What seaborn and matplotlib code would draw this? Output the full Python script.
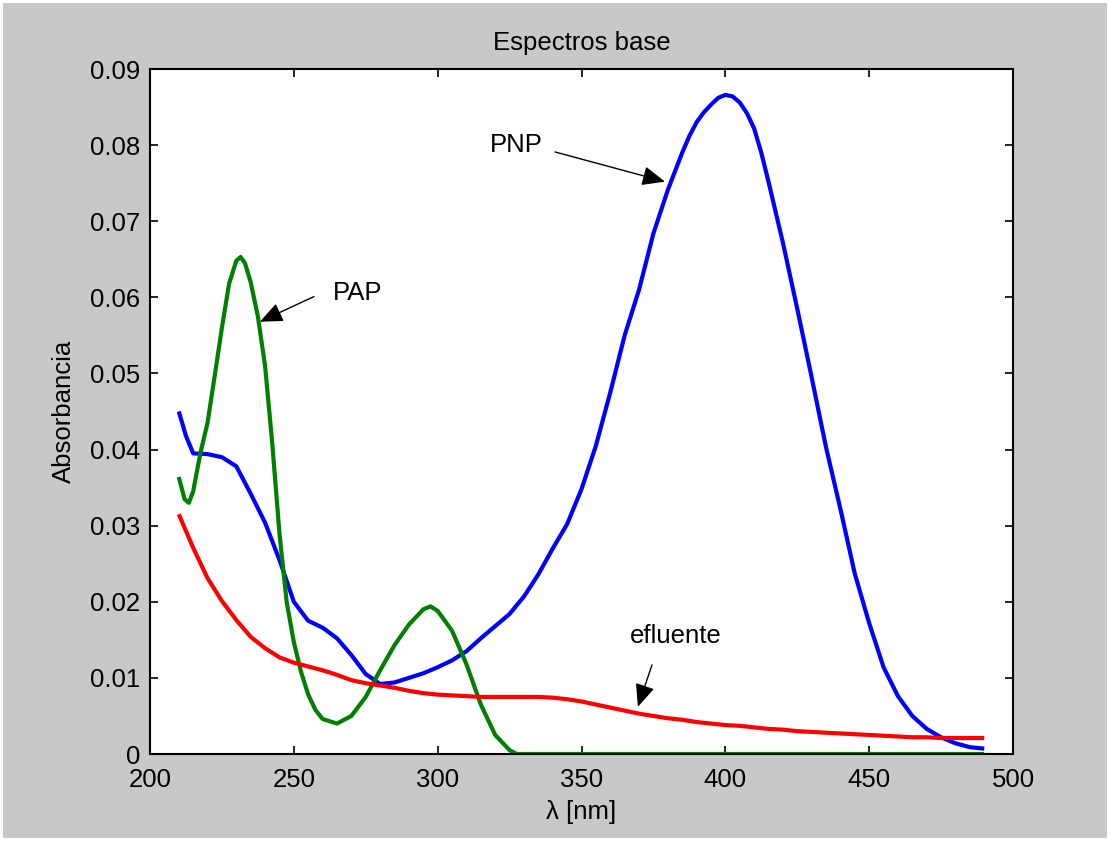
import numpy as np
import pandas as pd
import matplotlib
matplotlib.use("Agg")
import matplotlib.pyplot as plt
from matplotlib.patches import Rectangle
from matplotlib.ticker import FixedLocator, FuncFormatter
import seaborn as sns

# ---------------- data ----------------
wl = list(range(210, 495, 5))  # wavelength grid, nm (efluente)

pnp_wl = [210, 212.5, 215, 220, 225, 230, 235, 240, 245, 250, 255,
          260, 265, 270, 275, 280, 285, 290, 295, 300, 305,
          310, 315, 320, 325, 330, 335, 340, 345, 350, 355,
          360, 365, 370, 375, 380, 385, 387.5, 390, 392.5, 395, 397.5, 400, 402.5, 405, 407.5,
          410, 412.5, 415, 420, 425, 430, 435, 440, 445, 450, 455,
          460, 465, 470, 475, 480, 485, 490]
pnp = [0.0450, 0.0418, 0.0395, 0.0394, 0.0390, 0.0378, 0.0342, 0.0304, 0.0255, 0.0200, 0.0175,
       0.0166, 0.0152, 0.0130, 0.0105, 0.0092, 0.0094, 0.0100, 0.0106, 0.0114, 0.0123,
       0.0135, 0.0152, 0.0168, 0.0184, 0.0207, 0.0236, 0.0270, 0.0302, 0.0348, 0.0405,
       0.0475, 0.0550, 0.0610, 0.0684, 0.0741, 0.0790, 0.0812, 0.0830, 0.0843, 0.0853, 0.0862,
       0.0866, 0.0864, 0.0856, 0.0842,
       0.0822, 0.0790, 0.0752, 0.0672, 0.0585, 0.0495, 0.0403, 0.0322, 0.0237, 0.0172, 0.0114,
       0.0076, 0.0050, 0.0033, 0.0022, 0.0014, 0.0009, 0.0007]

pap_wl = [210, 212, 213.5, 215, 217.5, 220, 222.5, 225, 227.5, 230, 231.5, 233, 235,
          237.5, 240, 242.5, 245, 247.5, 250, 252.5, 255, 257.5, 260, 265, 270, 275,
          280, 285, 290, 295, 297.5, 300, 305, 310, 315, 320, 325, 327.5, 490]
pap = [0.0364, 0.0335, 0.0330, 0.0345, 0.0395, 0.0435, 0.0497, 0.0560, 0.0618, 0.0648,
       0.0653, 0.0645, 0.0620, 0.0575, 0.0510, 0.0408, 0.0290, 0.0200, 0.0147, 0.0108,
       0.0078, 0.0058, 0.0046, 0.0040, 0.0050, 0.0075, 0.0110, 0.0143, 0.0170, 0.0190,
       0.0194, 0.0188, 0.0162, 0.0118, 0.0065, 0.0025, 0.0005, 0.0, 0.0]

efluente = [0.0315, 0.0271, 0.0231, 0.0201, 0.0176, 0.0154, 0.0139, 0.0127, 0.0120, 0.0115,
            0.0110, 0.0104, 0.0097, 0.0093, 0.0090, 0.0087, 0.0083, 0.0080, 0.0078, 0.0077,
            0.0076, 0.0075, 0.0075, 0.0075, 0.0075, 0.0075, 0.0074, 0.0072, 0.0069, 0.0065,
            0.0061, 0.0057, 0.0053, 0.0050, 0.0047, 0.0045, 0.0042, 0.0040, 0.0038, 0.0037,
            0.0035, 0.0033, 0.0032, 0.0030, 0.0029, 0.0028, 0.0027, 0.0026, 0.0025, 0.0024,
            0.0023, 0.0022, 0.0022, 0.0021, 0.0021, 0.0021, 0.0021]

x_ticks = [200, 250, 300, 350, 400, 450, 500]
y_ticks = [0, 0.01, 0.02, 0.03, 0.04, 0.05, 0.06, 0.07, 0.08, 0.09]

title = "Espectros base"
xlabel = "λ [nm]"
ylabel = "Absorbancia"

# ---------------- style ----------------
sns.set_theme(style="ticks")
plt.rcParams["font.family"] = ["Liberation Sans", "DejaVu Sans"]
plt.rcParams["text.color"] = "black"
plt.rcParams["axes.labelcolor"] = "black"
plt.rcParams["lines.solid_joinstyle"] = "round"
plt.rcParams["lines.solid_capstyle"] = "butt"

fig = plt.figure(figsize=(11.10, 8.41), dpi=100)
fig.patch.set_facecolor("white")
fig.patches.append(Rectangle((3 / 1110, 3 / 841), 1 - 6 / 1110, 1 - 6 / 841,
                             transform=fig.transFigure, facecolor="#c8c8c8",
                             edgecolor="none", zorder=-10))
ax = fig.add_axes([150 / 1110, 1 - 754 / 841, 863 / 1110, 685 / 841])
ax.set_facecolor("white")

df_pnp = pd.DataFrame({"wl": pnp_wl, "abs": pnp})
df_pap = pd.DataFrame({"wl": pap_wl, "abs": pap})
df_efl = pd.DataFrame({"wl": wl, "abs": efluente})

sns.lineplot(data=df_pnp, x="wl", y="abs", ax=ax, color="#0000ff", lw=3.0, sort=False)
sns.lineplot(data=df_pap, x="wl", y="abs", ax=ax, color="#008000", lw=3.0, sort=False)
sns.lineplot(data=df_efl, x="wl", y="abs", ax=ax, color="#ff0000", lw=3.0, sort=False)

ax.set_xlim(200, 500)
ax.set_ylim(0, 0.09)
ax.xaxis.set_major_locator(FixedLocator(x_ticks))
ax.yaxis.set_major_locator(FixedLocator(y_ticks))
ax.yaxis.set_major_formatter(FuncFormatter(lambda v, p: f"{v:g}"))

fs = 18.5
ax.tick_params(axis="both", which="major", direction="in", length=6, width=1.2,
               labelsize=fs, colors="black", top=True, right=True)
ax.tick_params(axis="x", pad=10)
ax.tick_params(axis="y", pad=7)
for s in ax.spines.values():
    s.set_visible(True)
    s.set_linewidth(1.5)
    s.set_color("black")

ax.set_title(title, fontsize=fs, pad=14, color="black")
ax.set_xlabel(xlabel, fontsize=fs, labelpad=6, color="black")
ax.set_ylabel(ylabel, fontsize=fs, labelpad=10, color="black")

arrow_style = dict(arrowstyle="-|>,head_length=0.7,head_width=0.3", color="black",
                   lw=1.0, mutation_scale=20, shrinkA=0, shrinkB=0)
ax.annotate("", xy=(379, 0.0752), xytext=(340.8, 0.0791), arrowprops=arrow_style)
ax.text(327.5, 0.0800, "PNP", fontsize=fs, ha="center", va="center", color="black")
ax.annotate("", xy=(238.2, 0.0568), xytext=(257, 0.0601), arrowprops=arrow_style)
ax.text(272.3, 0.0606, "PAP", fontsize=fs, ha="center", va="center", color="black")
ax.annotate("", xy=(369.6, 0.0062), xytext=(374.5, 0.0117), arrowprops=arrow_style)
ax.text(382.8, 0.0155, "efluente", fontsize=fs, ha="center", va="center", color="black")

fig.savefig("out.png", dpi=100, facecolor=fig.get_facecolor())
